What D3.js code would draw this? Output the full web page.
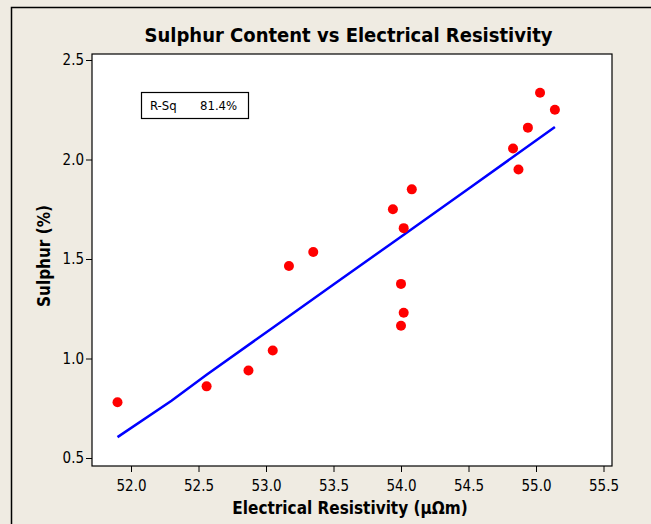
<!DOCTYPE html>
<html>
<head>
<meta charset="utf-8">
<script src="https://cdn.jsdelivr.net/npm/d3@7"></script>
<style>
    body { margin: 0; background: #efebe2; }
    svg { display: block; font-family: "DejaVu Sans Condensed", "DejaVu Sans", sans-serif; }
</style>
</head>
<body>
<script>
(function(){

    //data
    var resistivity = [51.90, 52.56, 52.87, 53.05, 53.17, 53.35, 53.94, 54.02, 54.08, 54.00, 54.02, 54.00, 55.03, 55.14, 54.94, 54.83, 54.87];
    var sulphur     = [0.78, 0.86, 0.94, 1.04, 1.465, 1.535, 1.75, 1.655, 1.85, 1.375, 1.23, 1.165, 2.335, 2.25, 2.16, 2.055, 1.95];

    //fitted line samples
    var fitX = [51.90, 52.30, 52.56, 53.05, 53.50, 54.00, 54.50, 55.14];
    var fitY = [0.605, 0.788, 0.918, 1.155, 1.372, 1.612, 1.853, 2.163];

    var xTicks = [52.0, 52.5, 53.0, 53.5, 54.0, 54.5, 55.0, 55.5];
    var yTicks = [0.5, 1.0, 1.5, 2.0, 2.5];

    var rSqLabel = "R-Sq", rSqValue = "81.4%";

window.onload = drawChart();

function drawChart(){

    var width = 651,
        height = 524;

    //plot box
    var left = 92, right = 612, top = 54, bottom = 466;

    var svg = d3.select("body")
        .append("svg")
        .attr("width", width)
        .attr("height", height);

    //outer frame
    svg.append("rect")
        .attr("x", 11.5).attr("y", 7.5)
        .attr("width", 700).attr("height", 600)
        .attr("fill", "#efebe2")
        .attr("stroke", "#000")
        .attr("stroke-width", 1.5);

    var x = d3.scaleLinear()
        .domain([52.0, 55.5])
        .range([131, 603.5]);

    var y = d3.scaleLinear()
        .domain([0.5, 2.5])
        .range([458, 60]);

    //plot area
    svg.append("rect")
        .attr("x", left).attr("y", top)
        .attr("width", right - left).attr("height", bottom - top)
        .attr("fill", "#fff")
        .attr("stroke", "#000")
        .attr("stroke-width", 1.2);

    //axes
    var xAxis = svg.append("g")
        .attr("transform", "translate(0," + bottom + ")")
        .call(d3.axisBottom(x).tickValues(xTicks).tickFormat(d3.format(".1f")).tickSize(6).tickSizeOuter(0));

    var yAxis = svg.append("g")
        .attr("transform", "translate(" + left + ",0)")
        .call(d3.axisLeft(y).tickValues(yTicks).tickFormat(d3.format(".1f")).tickSize(6).tickSizeOuter(0));

    [xAxis, yAxis].forEach(function(ax){
        ax.select(".domain").remove();
        ax.selectAll("line").attr("stroke", "#000");
        ax.selectAll("text")
            .attr("fill", "#000")
            .style("font-family", "'DejaVu Sans Condensed', 'DejaVu Sans', sans-serif")
            .style("font-size", "15px");
    });
    xAxis.selectAll("text").attr("dy", "1.05em");
    yAxis.selectAll("text").attr("x", -8);

    //fitted line
    var line = d3.line()
        .x(function(d){ return x(d[0]); })
        .y(function(d){ return y(d[1]); });

    svg.append("path")
        .datum(d3.zip(fitX, fitY))
        .attr("d", line)
        .attr("fill", "none")
        .attr("stroke", "#0000ff")
        .attr("stroke-width", 2.5);

    //points
    svg.selectAll(".pt")
        .data(d3.zip(resistivity, sulphur))
        .enter()
        .append("circle")
        .attr("class", "pt")
        .attr("cx", function(d){ return x(d[0]); })
        .attr("cy", function(d){ return y(d[1]); })
        .attr("r", 5)
        .attr("fill", "#ff0000");

    //R-Sq box
    var box = svg.append("g");
    box.append("rect")
        .attr("x", 141.5).attr("y", 92.5)
        .attr("width", 107).attr("height", 26)
        .attr("fill", "#fff")
        .attr("stroke", "#000")
        .attr("stroke-width", 1.2);
    box.append("text")
        .attr("x", 150).attr("y", 110)
        .style("font-size", "13px")
        .text(rSqLabel);
    box.append("text")
        .attr("x", 200).attr("y", 110)
        .style("font-size", "13px")
        .text(rSqValue);

    //title and axis labels
    svg.append("text")
        .attr("x", 348.5).attr("y", 42)
        .attr("text-anchor", "middle")
        .style("font-size", "20px")
        .style("font-weight", "bold")
        .text("Sulphur Content vs Electrical Resistivity");

    svg.append("text")
        .attr("x", 350).attr("y", 514)
        .attr("text-anchor", "middle")
        .style("font-size", "17px")
        .style("font-weight", "bold")
        .text("Electrical Resistivity (\u03bc\u03a9m)");

    svg.append("text")
        .attr("transform", "translate(50,256) rotate(-90)")
        .attr("text-anchor", "middle")
        .style("font-size", "17px")
        .style("font-weight", "bold")
        .text("Sulphur (%)");
};

})();
</script>
</body>
</html>
